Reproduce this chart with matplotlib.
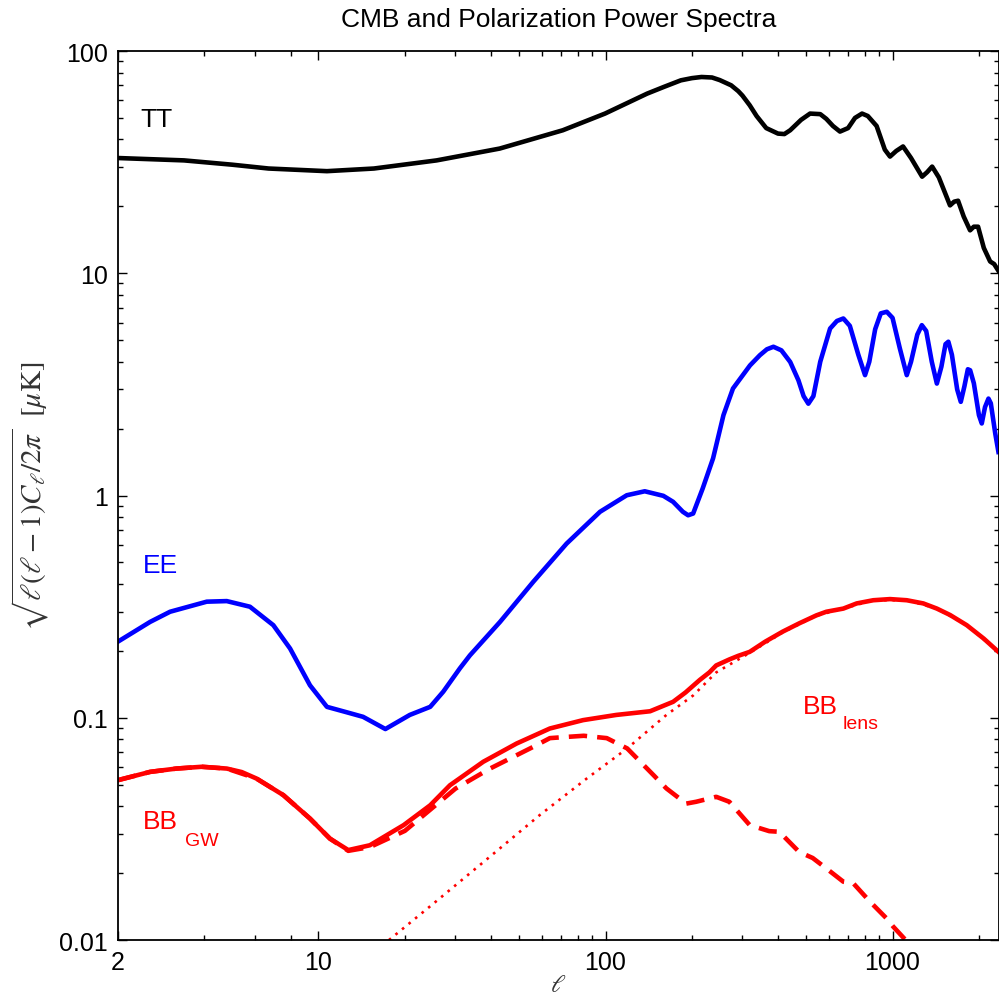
import matplotlib
matplotlib.use("Agg")
import matplotlib.pyplot as plt
from matplotlib.ticker import FixedLocator, NullFormatter

plt.rcParams['font.family'] = ['Liberation Sans', 'DejaVu Sans']
plt.rcParams['mathtext.fontset'] = 'stix'

# temperature spectrum
tt_l = [2, 3.4, 5, 6.7, 10.7, 15.6, 25.8, 42.8, 71, 99.6, 139.6, 160, 183, 200, 216, 235, 250, 274,
        290, 300, 318, 336, 363, 399, 420, 440, 480, 516, 560, 588, 620, 656, 700, 740, 783,
        820, 880, 940, 980, 1030, 1088, 1160, 1268, 1320, 1374, 1450, 1586, 1640,
        1692, 1770, 1863, 1920, 1986, 2080, 2188, 2260, 2334]
tt_v = [33.0, 32.2, 30.8, 29.6, 28.8, 29.6, 32.2, 36.4, 44, 52.3, 64.3, 69, 73.8, 75.5, 76.4, 76, 74, 70.1,
        66, 63, 57, 51, 45, 42.5, 42.3, 44, 49, 52.3, 52, 49.5, 46, 43.4, 45, 50, 52.3,
        51, 46, 36, 33.5, 35.5, 37.2, 33, 27.2, 28.5, 30.2, 27, 20.2, 21,
        21.2, 18, 15.6, 16.2, 16.2, 13, 11.3, 11, 10.3]

# E-mode polarization
ee_l = [2, 2.59, 3.04, 4.08, 4.79, 5.77, 6.96, 7.96, 9.34, 10.7, 12.5, 14.3, 17.1, 20.8,
        24.5, 27.2, 31.1, 33.7, 42.9, 56, 73.2, 95.7, 118.6, 137, 159, 172, 186, 194, 202,
        218, 226, 237, 257.6, 278, 318.7, 345, 365, 384.6, 410, 440, 470, 490, 509, 530,
        560, 606, 640, 674, 710, 760, 802, 830, 870, 910, 955, 1000, 1060, 1121, 1160,
        1220, 1265, 1310, 1370, 1427, 1480, 1530, 1565, 1610, 1680, 1729, 1780, 1830,
        1864, 1920, 2000, 2046, 2100, 2159, 2200, 2280, 2339]
ee_v = [0.22, 0.27, 0.30, 0.333, 0.335, 0.316, 0.261, 0.205, 0.140, 0.112, 0.106, 0.101, 0.089, 0.103,
        0.112, 0.131, 0.167, 0.191, 0.270, 0.409, 0.608, 0.845, 1.003, 1.045, 0.997, 0.937, 0.845, 0.815, 0.83,
        1.075, 1.23, 1.47, 2.30, 3.03, 3.85, 4.28, 4.55, 4.67, 4.5, 3.99, 3.3, 2.8, 2.59, 2.8,
        4.0, 5.64, 6.1, 6.26, 5.8, 4.3, 3.48, 4.0, 5.6, 6.6, 6.71, 6.3, 4.6, 3.48, 4.0,
        5.3, 5.84, 5.5, 4.0, 3.19, 3.8, 4.8, 4.92, 4.3, 3.0, 2.64, 3.1, 3.7,
        3.66, 3.2, 2.3, 2.11, 2.5, 2.73, 2.6, 1.9, 1.57]

# B-mode total (tensor + lensing)
bb_l = [2, 2.59, 3.2, 3.92, 4.79, 5.4, 6.08, 7.54, 9.34, 10.96, 12.7, 15.1, 19.8, 24.5, 28.7,
        37.5, 49, 64, 83.5, 109, 143, 172, 190, 213, 230, 243, 270, 290, 318, 360, 414,
        473, 543, 588, 674, 750, 857, 980, 1121, 1280, 1427, 1587, 1814, 2080, 2339]
bb_v = [0.0524, 0.0571, 0.0591, 0.0602, 0.0591, 0.057, 0.0533, 0.0449, 0.0352, 0.0286, 0.0254, 0.0267, 0.0329, 0.0404, 0.0497,
        0.0634, 0.0766, 0.0895, 0.0976, 0.103, 0.107, 0.118, 0.130, 0.148, 0.160, 0.172, 0.183, 0.190, 0.198, 0.220, 0.244,
        0.266, 0.289, 0.300, 0.310, 0.327, 0.338, 0.342, 0.338, 0.327, 0.310, 0.290, 0.261, 0.227, 0.198]

# B-mode from gravitational waves only
gw_l = [2, 2.59, 3.2, 3.92, 4.79, 6.08, 7.54, 9.34, 10.96, 12.7, 15.1, 20, 30, 39.5, 56, 64,
        73, 84, 101, 119, 147, 163, 191, 207, 243, 270, 318, 372, 403, 473, 527, 588,
        674, 730, 834, 954, 1005, 1144]
gw_v = [0.0524, 0.0571, 0.0591, 0.0602, 0.0591, 0.0533, 0.0449, 0.0352, 0.0286, 0.0252, 0.0262, 0.031, 0.048, 0.059, 0.074, 0.081,
        0.082, 0.083, 0.081, 0.0728, 0.0552, 0.0481, 0.0411, 0.0419, 0.0441, 0.0419, 0.0329, 0.0309, 0.0307, 0.0249, 0.0234, 0.0210,
        0.0183, 0.018, 0.0149, 0.0125, 0.0115, 0.0096]

# B-mode from lensing only
lens_l = [17.6, 25, 40, 59, 86, 119, 163, 202, 243, 318, 414, 543, 674, 857, 1121, 1427, 1814, 2339]
lens_v = [0.0100, 0.0145, 0.0240, 0.0365, 0.0533, 0.0728, 0.103, 0.126, 0.160, 0.196, 0.242, 0.288,
          0.310, 0.338, 0.338, 0.310, 0.261, 0.198]

fig = plt.figure(figsize=(9.99, 10.04), dpi=100)
ax = fig.add_axes([0.118, 0.0627, 0.8815, 0.8855])
ax.set_xscale('log')
ax.set_yscale('log')

ax.plot(lens_l, lens_v, color='red', lw=1.9, linestyle=(0, (1, 2.2)))
ax.plot(gw_l, gw_v, color='red', lw=3.3, linestyle=(0, (4, 2.2)))
ax.plot(bb_l, bb_v, color='red', lw=3.3, solid_joinstyle='round')
ax.plot(ee_l, ee_v, color='blue', lw=3.3, solid_joinstyle='round')
ax.plot(tt_l, tt_v, color='black', lw=3.3, solid_joinstyle='round')

ax.set_xlim(2, 2340)
ax.set_ylim(0.01, 100)

ax.xaxis.set_major_locator(FixedLocator([2, 10, 100, 1000]))
ax.set_xticklabels(['2', '10', '100', '1000'])
ax.xaxis.set_minor_locator(FixedLocator([4, 6, 8] + list(range(20, 100, 10))
                                        + list(range(200, 1000, 100)) + [2000]))
ax.xaxis.set_minor_formatter(NullFormatter())
ax.yaxis.set_major_locator(FixedLocator([0.01, 0.1, 1, 10, 100]))
ax.set_yticklabels(['0.01', '0.1', '1', '10', '100'])
ax.yaxis.set_minor_formatter(NullFormatter())

ax.tick_params(which='both', direction='in', top=True, right=True, width=1.0,
               labelsize=18, pad=7)
ax.tick_params(which='major', length=6.5)
ax.tick_params(which='minor', length=3.6)
for s in ax.spines.values():
    s.set_linewidth(1.3)

ax.set_title('CMB and Polarization Power Spectra', fontsize=19, pad=18)
ax.set_xlabel(r'$\ell$', fontsize=18, color='#333333', labelpad=-1)
ax.set_ylabel(r'$\sqrt{\ell(\ell-1)C_\ell/2\pi}\ \ [\mu\mathrm{K}]$', fontsize=21,
              color='#333333', labelpad=6)

ax.text(2.39, 46.2, 'TT', fontsize=19, color='black', ha='left', va='baseline')
ax.text(2.45, 0.455, 'EE', fontsize=19, color='blue', ha='left', va='baseline')
ax.text(2.45, 0.0318, 'BB', fontsize=19, color='red', ha='left', va='baseline')
ax.text(3.43, 0.0269, 'GW', fontsize=14, color='red', ha='left', va='baseline')
ax.text(487, 0.1046, 'BB', fontsize=19, color='red', ha='left', va='baseline')
ax.text(672, 0.0895, 'lens', fontsize=14, color='red', ha='left', va='baseline')

fig.savefig('out.png', dpi=100)
